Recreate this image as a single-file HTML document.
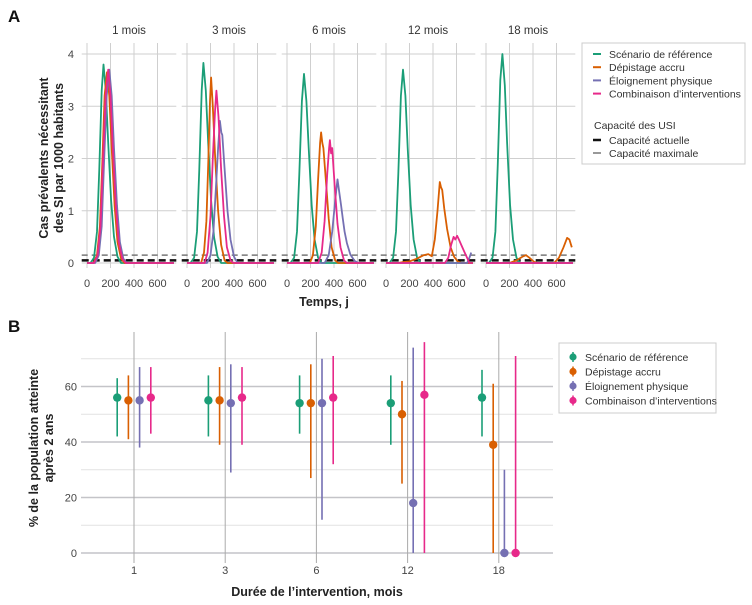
<!DOCTYPE html>
<html><head><meta charset="utf-8">
<style>
body{margin:0;background:#fff;}
svg{display:block;font-family:"Liberation Sans",sans-serif;}
</style></head>
<body>
<svg id="c" width="752" height="605" viewBox="0 0 752 605"></svg>
<script>
// ---------- Panel A data ----------
const facetTitles = ["1 mois","3 mois","6 mois","12 mois","18 mois"];
const seriesNames = ["Scénario de référence","Dépistage accru","Éloignement physique","Combinaison d’interventions"];
const seriesColors = ["#1b9e77","#d95f02","#7570b3","#e7298a"];
const xTicksA = [0,200,400,600];
const yTicksA = [0,1,2,3,4];
const capActual = 0.05;
const capMax = 0.15;

const f1Green = [[0,0],[30,0],[60,0.1],[85,0.6],[105,1.8],[125,3.3],[140,3.8],[160,3.3],[180,2.3],[205,1.2],[230,0.5],[260,0.12],[290,0],[740,0]];
const f1Orange = [[0,0],[55,0],[85,0.15],[110,0.7],[130,1.9],[150,3.2],[170,3.65],[190,3.2],[210,2.2],[235,1.1],[260,0.4],[290,0.08],[320,0],[740,0]];
const f1Purple = [[0,0],[70,0],[100,0.15],[125,0.7],[145,1.9],[168,3.2],[190,3.7],[210,3.2],[230,2.2],[255,1.1],[280,0.4],[310,0.08],[340,0],[740,0]];
const f1Pink = [[0,0],[60,0],[90,0.15],[115,0.7],[135,1.9],[158,3.2],[180,3.7],[200,3.2],[220,2.2],[245,1.1],[270,0.4],[300,0.08],[330,0],[740,0]];

const f2Green = [[0,0],[30,0],[60,0.1],[85,0.6],[105,1.8],[125,3.3],[140,3.83],[160,3.3],[180,2.3],[205,1.2],[230,0.5],[260,0.12],[290,0],[740,0]];
const f2Orange = [[0,0],[120,0],[145,0.2],[165,0.8],[182,2.0],[196,3.1],[205,3.55],[220,3.0],[240,2.0],[265,1.0],[290,0.35],[320,0.05],[345,0],[740,0]];
const f2Purple = [[0,0],[170,0],[200,0.15],[225,0.6],[245,1.4],[265,2.2],[280,2.72],[292,2.5],[300,2.45],[320,1.8],[345,1.0],[370,0.45],[400,0.12],[430,0],[740,0]];
const f2Pink = [[0,0],[150,0],[175,0.2],[200,0.9],[220,2.0],[238,2.9],[250,3.3],[268,2.8],[290,1.8],[315,0.9],[340,0.3],[370,0.05],[395,0],[740,0]];

const f3Green = [[0,0],[30,0],[60,0.1],[85,0.6],[105,1.7],[127,3.1],[145,3.62],[165,3.1],[185,2.2],[210,1.1],[235,0.45],[265,0.1],[295,0],[740,0]];
const f3Orange = [[0,0],[195,0],[220,0.15],[245,0.7],[265,1.6],[282,2.3],[290,2.5],[300,2.3],[310,2.2],[330,1.6],[355,0.85],[380,0.3],[410,0.05],[435,0],[740,0]];
const f3Purple = [[0,0],[320,0],[355,0.15],[385,0.6],[410,1.2],[430,1.6],[445,1.35],[460,1.1],[475,0.85],[490,0.6],[510,0.38],[540,0.16],[575,0.04],[610,0],[740,0]];
const f3Pink = [[0,0],[265,0],[295,0.2],[320,0.8],[342,1.7],[358,2.2],[365,2.35],[375,2.1],[385,2.2],[405,1.5],[430,0.75],[455,0.3],[485,0.05],[510,0],[740,0]];

const f4Green = [[0,0],[30,0],[60,0.1],[85,0.6],[105,1.7],[127,3.2],[145,3.7],[165,3.2],[185,2.2],[210,1.1],[235,0.45],[265,0.1],[295,0],[740,0]];
const f4Orange = [[0,0],[100,0],[150,0.02],[200,0.03],[260,0.08],[320,0.15],[360,0.17],[390,0.13],[415,0.45],[438,1.0],[458,1.55],[468,1.45],[478,1.4],[495,1.05],[520,0.65],[550,0.3],[580,0.12],[610,0.03],[640,0],[740,0]];
const f4Purple = [[0,0],[690,0],[710,0.1],[725,0.2]];
const f4Pink = [[0,0],[500,0],[530,0.1],[555,0.35],[575,0.5],[590,0.45],[605,0.52],[620,0.45],[640,0.35],[670,0.2],[700,0.05],[710,0],[740,0]];

const f5Green = [[0,0],[25,0],[55,0.1],[80,0.6],[100,1.9],[122,3.5],[140,4.0],[160,3.4],[180,2.3],[205,1.1],[230,0.45],[260,0.1],[290,0],[740,0]];
const f5Orange = [[0,0],[200,0],[260,0.05],[310,0.12],[340,0.15],[370,0.1],[410,0.02],[440,0],[580,0],[620,0.1],[660,0.3],[690,0.48],[710,0.45],[730,0.3]];
const f5Purple = [[0,0],[740,0]];
const f5Pink = [[0,0],[740,0]];

const facetSeries = [
  [f1Green,f1Orange,f1Purple,f1Pink],
  [f2Green,f2Orange,f2Purple,f2Pink],
  [f3Green,f3Orange,f3Purple,f3Pink],
  [f4Green,f4Orange,f4Purple,f4Pink],
  [f5Green,f5Orange,f5Purple,f5Pink]
];

// ---------- Panel B data ----------
const durations = ["1","3","6","12","18"];
const yTicksB = [0,20,40,60];
const meanGreen = [56,55,54,54,56];
const loGreen = [42,42,43,39,42];
const hiGreen = [63,64,64,64,66];
const meanOrange = [55,55,54,50,39];
const loOrange = [41,39,27,25,0];
const hiOrange = [64,67,68,62,61];
const meanPurple = [55,54,54,18,0];
const loPurple = [38,29,12,0,0];
const hiPurple = [67,68,70,74,30];
const meanPink = [56,56,56,57,0];
const loPink = [43,39,32,0,0];
const hiPink = [67,67,71,76,71];

const svg = document.getElementById('c');
const NS = "http://www.w3.org/2000/svg";
function mk(tag, attrs, parent){
  const e = document.createElementNS(NS, tag);
  for (const k in attrs) e.setAttribute(k, attrs[k]);
  (parent||svg).appendChild(e);
  return e;
}
function txt(x,y,s,size,opt){
  const t = mk('text',{x:x,y:y,'font-size':size,fill:(opt&&opt.fill)||'#333','text-anchor':(opt&&opt.anchor)||'middle'});
  if(opt&&opt.weight) t.setAttribute('font-weight',opt.weight);
  if(opt&&opt.rot) t.setAttribute('transform',opt.rot);
  t.textContent = s;
  return t;
}

// ---------- Panel A ----------
const lblA = txt(8,22,"A",17,{anchor:'start',weight:'bold',fill:'#111'});



const facetZero = [87,187,287,386,486];
const pxPerDay = 0.1175;
const yA = v => 263 - v*52.25;
const panelL = -45, panelR = 760;

facetTitles.forEach((title,fi)=>{
  const g = mk('g',{});
  
  
  const xA = d => facetZero[fi] + d*pxPerDay;
  const left = xA(panelL), right = xA(panelR);
  const cp = mk('clipPath',{id:'clip'+fi},g);
  mk('rect',{x:left,y:40,width:right-left,height:235},cp);
  yTicksA.forEach(v=>{
    const l = mk('line',{x1:left,x2:right,y1:yA(v),y2:yA(v),stroke:'#cfcfcf','stroke-width':1},g);
    
    
  });
  xTicksA.forEach(d=>{
    const l = mk('line',{x1:xA(d),x2:xA(d),y1:43,y2:268,stroke:'#cfcfcf','stroke-width':1},g);
    
    
    const t = txt(xA(d),287,String(d),11,{fill:'#444'});
    g.appendChild(t);
    
    
  });
  const ft = txt((left+right)/2,34,title,11.5,{fill:'#333'});
  g.appendChild(ft);
  
  
  const capM = mk('line',{x1:left,x2:right,y1:yA(capMax),y2:yA(capMax),stroke:'#777','stroke-width':1.5,'stroke-dasharray':'6,4'},g);
  
  
  const capA = mk('line',{x1:left,x2:right,y1:yA(capActual),y2:yA(capActual),stroke:'#111','stroke-width':2.5,'stroke-dasharray':'7,4'},g);
  
  
  facetSeries[fi].forEach((pts,si)=>{
    const d = pts.map((p,i)=>(i?'L':'M')+xA(p[0]).toFixed(1)+','+yA(p[1]).toFixed(1)).join('');
    const path = mk('path',{d:d,fill:'none',stroke:seriesColors[si],'stroke-width':1.8,'clip-path':'url(#clip'+fi+')','stroke-linejoin':'round'},g);
    
    
  });
});
yTicksA.forEach(v=>{
  const t = txt(74,yA(v)+4,String(v),11,{fill:'#444',anchor:'end'});
  
  
});
const yta1 = txt(0,0,"Cas prévalents nécessitant",12.5,{weight:'bold',fill:'#222',rot:'translate(48,158) rotate(-90)'});


const yta2 = txt(0,0,"des SI par 1000 habitants",12.5,{weight:'bold',fill:'#222',rot:'translate(63,158) rotate(-90)'});


const xta = txt(324,306,"Temps, j",12.5,{weight:'bold',fill:'#222'});



// Legend A
const legA = mk('g',{});


mk('rect',{x:582,y:43,width:163,height:121,fill:'#fff',stroke:'#ccc'},legA);
seriesNames.forEach((n,i)=>{
  const y = 54 + i*13.2;
  const e = mk('g',{},legA);
  
  
  mk('line',{x1:593,x2:601,y1:y,y2:y,stroke:seriesColors[i],'stroke-width':2},e);
  e.appendChild(txt(609,y+4,n,10.5,{anchor:'start'}));
});
legA.appendChild(txt(594,129,"Capacité des USI",10.5,{anchor:'start'}));
const le1 = mk('g',{},legA);


mk('line',{x1:593,x2:601,y1:140,y2:140,stroke:'#111','stroke-width':2.5},le1);
le1.appendChild(txt(609,144,"Capacité actuelle",10.5,{anchor:'start'}));
const le2 = mk('g',{},legA);


mk('line',{x1:593,x2:601,y1:153,y2:153,stroke:'#999','stroke-width':2},le2);
le2.appendChild(txt(609,157,"Capacité maximale",10.5,{anchor:'start'}));

// ---------- Panel B ----------
const lblB = txt(8,332,"B",17,{anchor:'start',weight:'bold',fill:'#111'});


const yB = v => 553 - v*2.775;
const xB = i => 134 + i*91.2;
const bL = 81, bR = 553;
[10,30,50,70].forEach(v=>{
  const l = mk('line',{x1:bL,x2:bR,y1:yB(v),y2:yB(v),stroke:'#e2e2e2','stroke-width':1});
  
  
});
yTicksB.forEach(v=>{
  const l = mk('line',{x1:bL,x2:bR,y1:yB(v),y2:yB(v),stroke:'#c4c4c8','stroke-width':1.6});
  
  
  const t = txt(77,yB(v)+4,String(v),11,{fill:'#444',anchor:'end'});
  
  
});
durations.forEach((d,i)=>{
  const l = mk('line',{x1:xB(i),x2:xB(i),y1:332,y2:563,stroke:'#aaa','stroke-width':1});
  
  
  const t = txt(xB(i),574,d,11,{fill:'#444'});
  
  
});
const means = [meanGreen,meanOrange,meanPurple,meanPink];
const los = [loGreen,loOrange,loPurple,loPink];
const his = [hiGreen,hiOrange,hiPurple,hiPink];
const dodge = [-16.8,-5.6,5.6,16.8];
means.forEach((arr,si)=>{
  arr.forEach((m,i)=>{
    const x = xB(i)+dodge[si];
    const g = mk('g',{});
    
    
    mk('line',{x1:x,x2:x,y1:yB(los[si][i]),y2:yB(his[si][i]),stroke:seriesColors[si],'stroke-width':1.6},g);
    mk('circle',{cx:x,cy:yB(m),r:4.2,fill:seriesColors[si]},g);
  });
});
const ytb1 = txt(0,0,"% de la population atteinte",12.5,{weight:'bold',fill:'#222',rot:'translate(38,448) rotate(-90)'});


const ytb2 = txt(0,0,"après 2 ans",12.5,{weight:'bold',fill:'#222',rot:'translate(53,448) rotate(-90)'});


const xtb = txt(317,596,"Durée de l’intervention, mois",12.5,{weight:'bold',fill:'#222'});



const legB = mk('g',{});


mk('rect',{x:559,y:343,width:157,height:70,fill:'#fff',stroke:'#ccc'},legB);
seriesNames.forEach((n,i)=>{
  const y = 357 + i*14.5;
  const e = mk('g',{},legB);
  
  
  mk('line',{x1:573,x2:573,y1:y-5,y2:y+5,stroke:seriesColors[i],'stroke-width':1.5},e);
  mk('circle',{cx:573,cy:y,r:3.6,fill:seriesColors[i]},e);
  e.appendChild(txt(585,y+4,n,10.5,{anchor:'start'}));
});
</script>
</body></html>
